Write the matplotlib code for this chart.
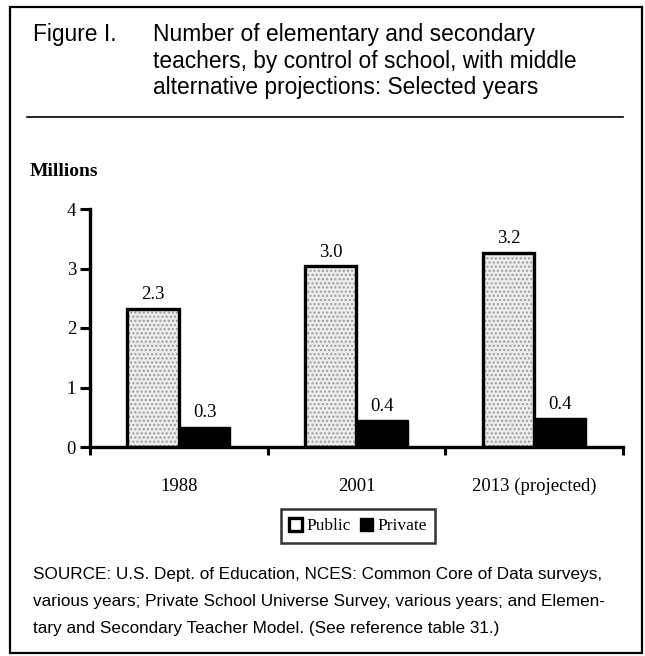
import matplotlib.pyplot as plt
from matplotlib.patches import Patch, Rectangle
import numpy as np

years = ["1988", "2001", "2013 (projected)"]
public = [2.32, 3.04, 3.26]
private = [0.34, 0.45, 0.48]
public_labels = ["2.3", "3.0", "3.2"]
private_labels = ["0.3", "0.4", "0.4"]

title_tag = "Figure I."
title_text = ("Number of elementary and secondary\n"
              "teachers, by control of school, with middle\n"
              "alternative projections: Selected years")
source_text = ("SOURCE: U.S. Dept. of Education, NCES: Common Core of Data surveys,\n"
               "various years; Private School Universe Survey, various years; and Elemen-\n"
               "tary and Secondary Teacher Model. (See reference table 31.)")

serif = "Liberation Serif"
sans = ["Liberation Sans", "DejaVu Sans"]

W, H = 645, 656
fig = plt.figure(figsize=(W / 100, H / 100), dpi=100)

# frame round the whole figure
fig.add_artist(Rectangle((10 / W, 1 - 653 / H), 632 / W, 646 / H, transform=fig.transFigure,
                         fill=False, edgecolor="black", linewidth=1.6))
# rule under the title
fig.add_artist(plt.Line2D([27 / W, 623 / W], [1 - 117 / H, 1 - 117 / H], transform=fig.transFigure,
                          color="black", linewidth=1.2))

fig.text(33 / W, 1 - 23 / H, title_tag, family=sans, fontsize=16.4, va="top")
fig.text(153 / W, 1 - 23 / H, title_text, family=sans, fontsize=16.4, va="top", linespacing=1.2)

fig.text(30 / W, 1 - 172 / H, "Millions", family=serif, fontsize=14, fontweight="bold", va="center")

ax = fig.add_axes([90 / W, 1 - 447 / H, 533 / W, 238 / H])
x = np.arange(len(years))
w = 0.29

# public bars: stippled grey fill, heavy black outline
ax.bar(x - w / 2, public, w, color="#ececec", hatch="....", edgecolor="#9a9a9a", linewidth=0)
b1 = ax.bar(x - w / 2, public, w, fill=False, edgecolor="black", linewidth=2.4)
b2 = ax.bar(x + w / 2, private, w, color="black", edgecolor="black", linewidth=1)

ax.bar_label(b1, labels=public_labels, padding=4, family=serif, fontsize=13.5)
ax.bar_label(b2, labels=private_labels, padding=4, family=serif, fontsize=13.5)

ax.set_xlim(-0.5, 2.5)
ax.set_ylim(0, 4)
ax.set_yticks([0, 1, 2, 3, 4])
ax.set_yticklabels(["0", "1", "2", "3", "4"], family=serif, fontsize=13.5)
ax.set_xticks([-0.5, 0.5, 1.5, 2.5])
ax.set_xticklabels([])
ax.set_xticks(x, minor=True)
ax.set_xticklabels(years, minor=True, family=serif, fontsize=13.5)
ax.tick_params(axis="x", which="major", direction="out", length=6, width=2.2)
ax.tick_params(axis="x", which="minor", length=0, pad=22)
ax.tick_params(axis="y", direction="out", length=7, width=2.2, pad=3)

for s in ["top", "right"]:
    ax.spines[s].set_visible(False)
ax.spines["left"].set_linewidth(2.4)
ax.spines["bottom"].set_linewidth(2.4)

handles = [Patch(facecolor="white", edgecolor="black", linewidth=2.4, label="Public"),
           Patch(facecolor="black", edgecolor="black", label="Private")]
leg = fig.legend(handles=handles, loc="center", bbox_to_anchor=(358 / W, 1 - 526 / H), ncol=2,
                 prop={"family": serif, "size": 12.5}, fancybox=False, frameon=True,
                 handlelength=0.75, handleheight=0.75, handletextpad=0.25, columnspacing=0.5,
                 borderpad=0.5, borderaxespad=0)
leg.get_frame().set_edgecolor("black")
leg.get_frame().set_linewidth(1.8)

fig.text(33 / W, 1 - 567 / H, source_text, family=sans, fontsize=12.3, va="top", linespacing=1.98)

fig.savefig("out.png", dpi=100)
